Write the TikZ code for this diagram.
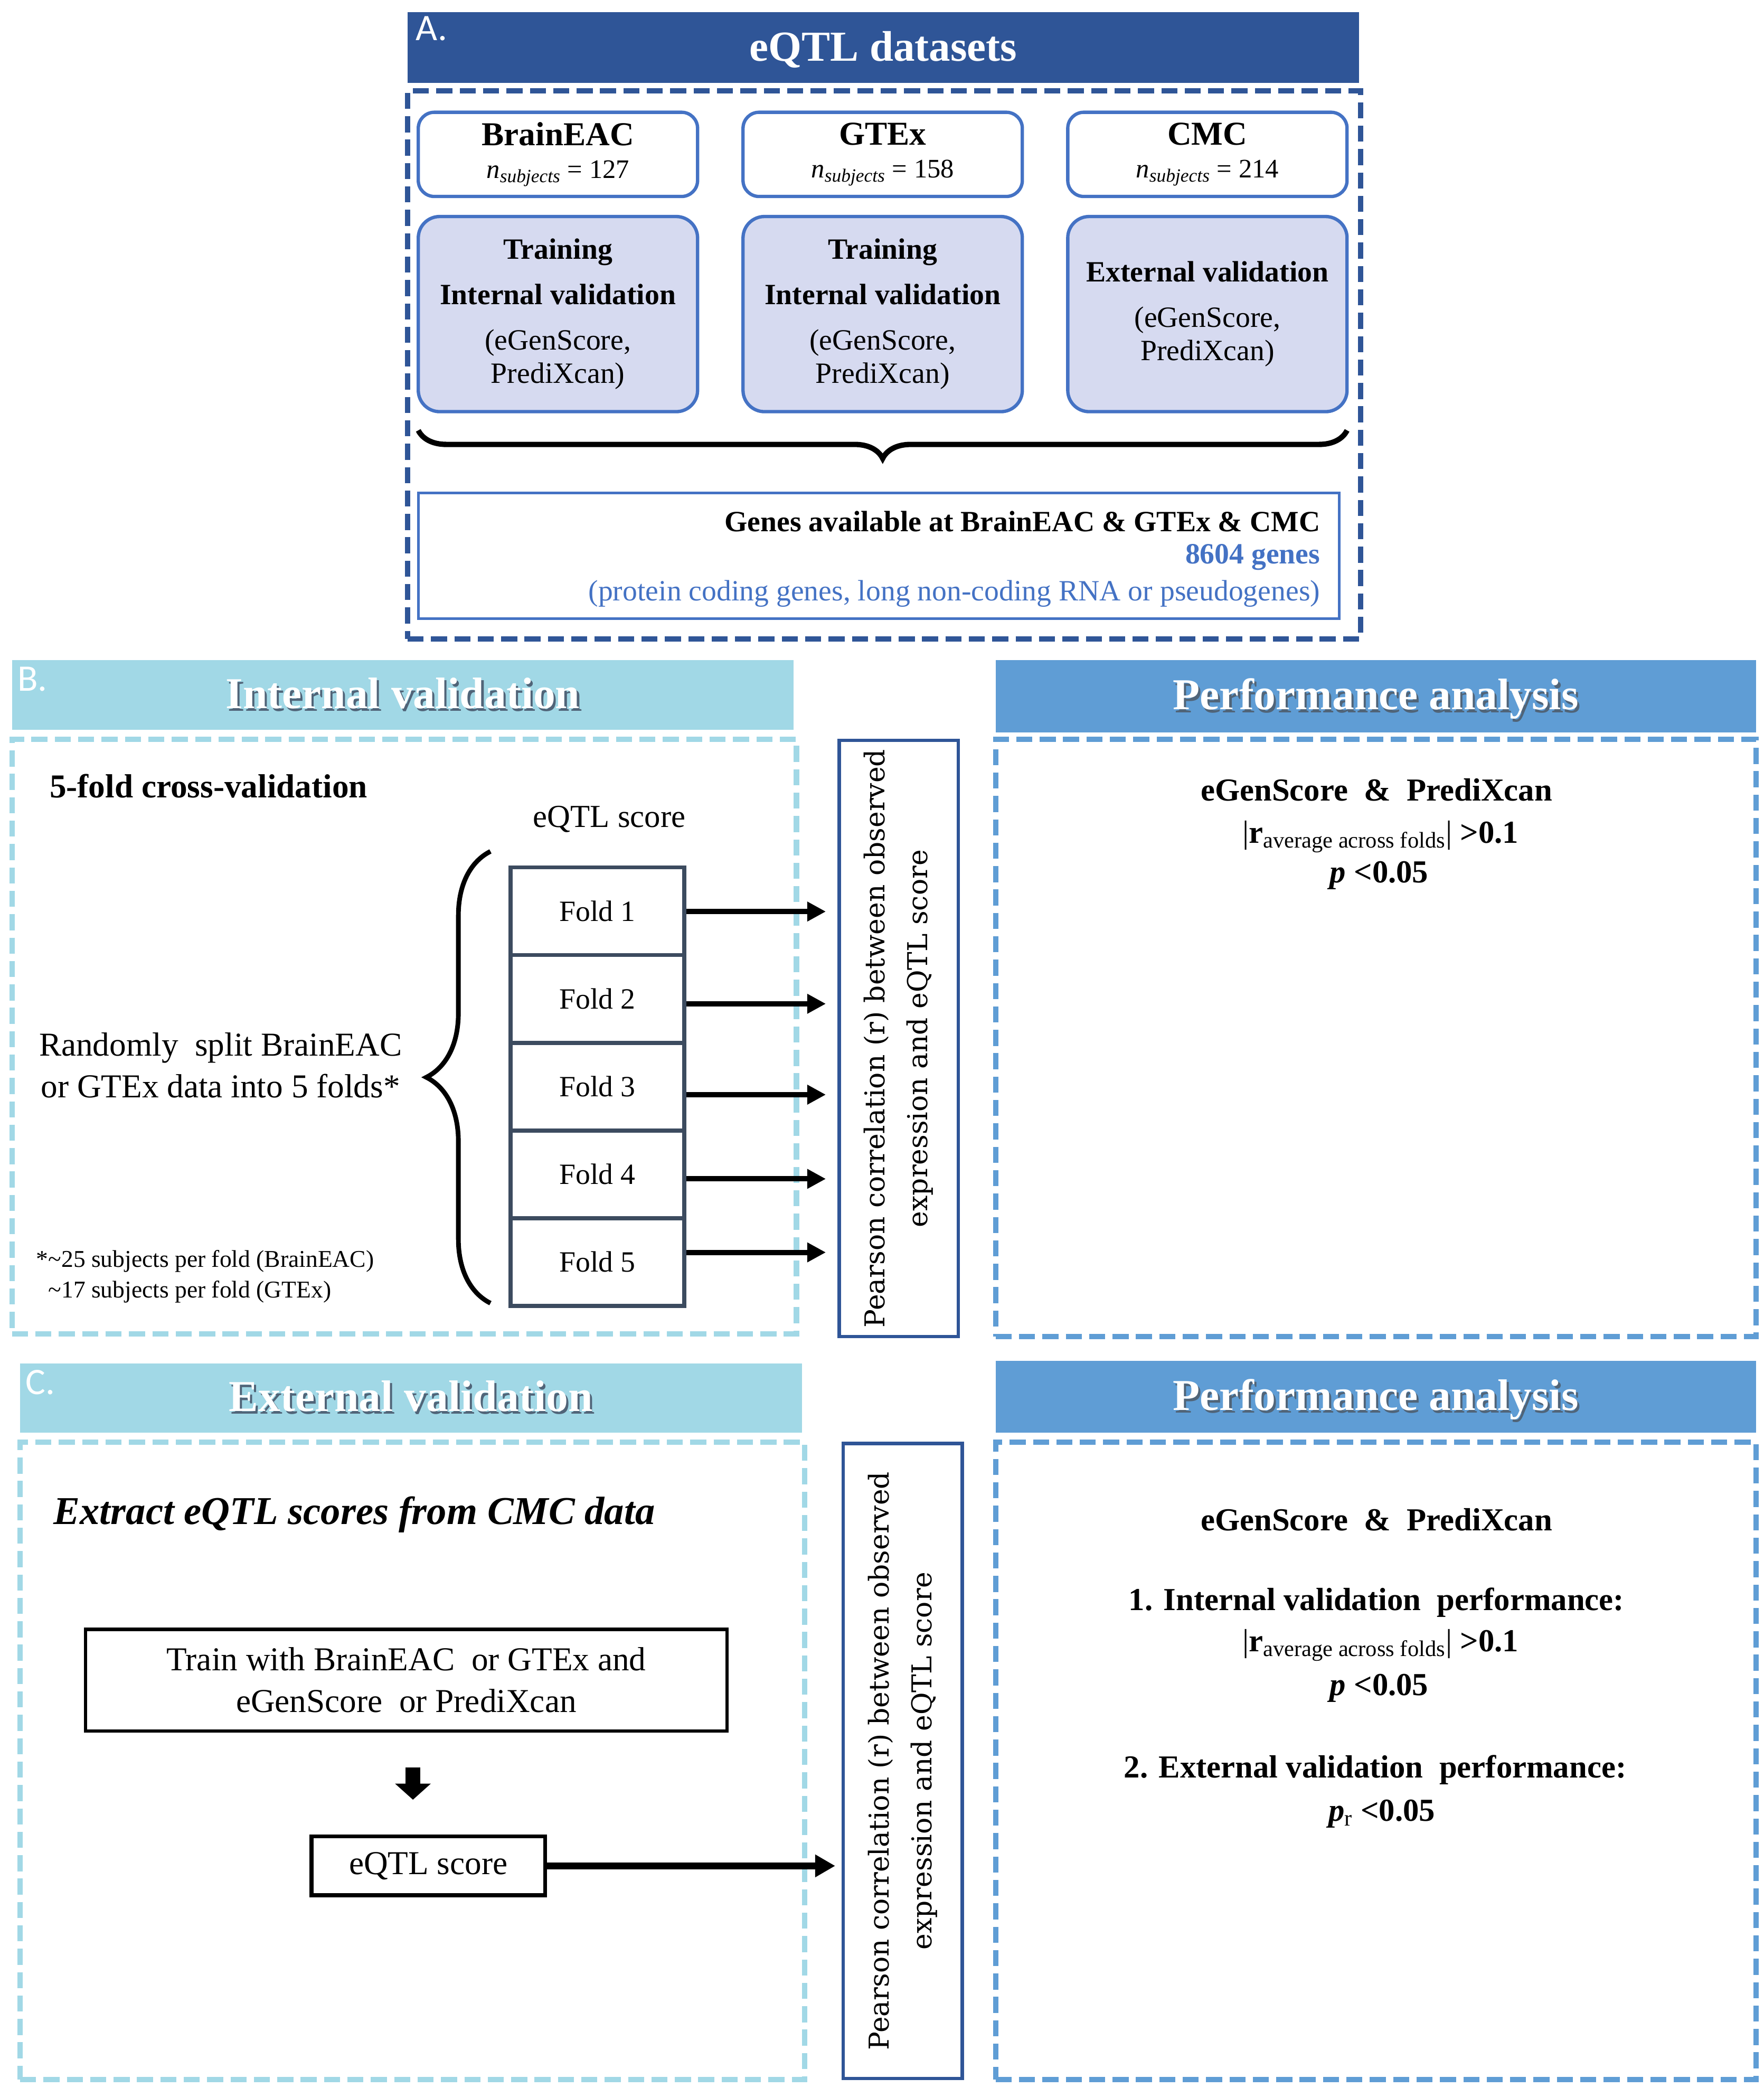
\documentclass[tikz,border=0pt]{standalone}
\usepackage{fontspec}
\setmainfont{Liberation Serif}
\newfontfamily\lblfont{Carlito}
\newfontfamily\pearfont{DejaVu Serif}
\usetikzlibrary{arrows.meta,decorations.pathreplacing,calc}
\definecolor{dkblue}{RGB}{47,85,151}
\definecolor{bdblue}{RGB}{68,114,196}
\definecolor{lav}{RGB}{214,218,240}
\definecolor{ltblue}{RGB}{161,216,230}
\definecolor{mdblue}{RGB}{95,157,213}
\definecolor{slate}{RGB}{60,75,95}
\definecolor{shcol}{RGB}{80,100,120}
\newcommand{\fsz}[2]{\fontsize{#1}{#2}\selectfont}
\newcommand{\nsub}[1]{\textit{n}\textsubscript{\textit{subjects}} = #1}
\newcommand{\shtxt}[1]{\makebox[0pt][l]{\hspace{1.6pt}\raisebox{-2pt}{\textcolor{shcol}{#1}}}#1}
\begin{document}
\begin{tikzpicture}[x=1pt,y=-1pt,
  hdr/.style={minimum height=53pt, inner sep=0pt, text=white, text height=22pt, text depth=2pt, font=\bfseries\fsz{33}{38}},
  dframe/.style={line width=4pt, dash pattern=on 12pt off 5.5pt, inner sep=0pt},
  topbox/.style={draw=bdblue, line width=2.5pt, rounded corners=12pt, fill=white, minimum width=209pt, minimum height=63pt, align=center, inner sep=0pt},
  midbox/.style={draw=bdblue, line width=2.5pt, rounded corners=16pt, fill=lav, minimum width=209pt, minimum height=146pt, align=center, inner sep=0pt, font=\fsz{22}{25}},
  fold/.style={draw=slate, line width=3pt, minimum width=130pt, minimum height=65.6pt, inner sep=0pt, font=\fsz{22}{26}},
  pear/.style={draw=dkblue, line width=2.5pt, rotate=90, minimum width=446pt, minimum height=89pt, align=center, inner sep=0pt, font=\pearfont\fsz{20.5}{32}},
  arr/.style={line width=4pt, -{Triangle[length=14pt,width=14pt]}},
  lbl/.style={anchor=north west, text=white, font=\lblfont\fsz{28}{30}, inner sep=0pt},
  plain/.style={inner sep=0pt},
]
\useasboundingbox (0,0) rectangle (1320,1562.2);

% ---------------- Panel A
\node[hdr, fill=dkblue, minimum width=712pt, text depth=2pt, font=\bfseries\fsz{32}{36}] (hA) at (661,35.5) {eQTL datasets};
\node[lbl] (lA) at (311,12) {A.};
\node[draw=dkblue, dframe, minimum width=713pt, minimum height=410pt] (fA) at (661.5,273) {};

\node[topbox, text depth=6pt] (b1) at (417.5,115.5) {{\bfseries\fsz{25}{28}BrainEAC}\\[10pt]{\fsz{20}{22}\nsub{127}}};
\node[topbox, text depth=6pt] (b2) at (660.5,115.5) {{\bfseries\fsz{25}{28}GTEx}\\[10pt]{\fsz{20}{22}\nsub{158}}};
\node[topbox, text depth=6pt] (b3) at (903.5,115.5) {{\bfseries\fsz{25}{28}CMC}\\[10pt]{\fsz{20}{22}\nsub{214}}};

\node[midbox] (m1) at (417.5,235) {\textbf{Training}\\[9pt]\textbf{Internal validation}\\[9pt](eGenScore,\\PrediXcan)};
\node[midbox] (m2) at (660.5,235) {\textbf{Training}\\[9pt]\textbf{Internal validation}\\[9pt](eGenScore,\\PrediXcan)};
\node[midbox] (m3) at (903.5,235) {\textbf{External validation}\\[9pt](eGenScore,\\PrediXcan)};

\coordinate (brR) at (1008,322);
\coordinate (brL) at (313,322);
\draw[line width=4pt, decorate, decoration={brace, amplitude=21pt}] (brR) -- (brL);

\node[draw=bdblue, line width=2pt, minimum width=689pt, minimum height=94pt, inner sep=0pt] (gb) at (657.5,416) {};
\node[plain, anchor=east, font=\bfseries\fsz{22}{26}] (g1) at (988,390) {Genes available at BrainEAC \& GTEx \& CMC};
\node[plain, anchor=east, font=\bfseries\fsz{22}{26}, text=bdblue] (g2) at (988,417) {8604 genes};
\node[plain, anchor=east, font=\fsz{22}{26}, text=bdblue] (g3) at (988,444) {(protein coding genes, long non-coding RNA or pseudogenes)};

% ---------------- Panel B
\node[hdr, fill=ltblue, minimum width=585pt, minimum height=52pt] (hB) at (301.5,520) {\shtxt{Internal validation}};
\node[lbl] (lB) at (13,499) {B.};
\node[draw=ltblue, dframe, minimum width=587pt, minimum height=445pt] (fB) at (302.5,775.5) {};

\node[plain, anchor=west, font=\bfseries\fsz{25}{28}] (cv) at (37,588) {5-fold cross-validation};
\node[plain, font=\fsz{24}{28}] (es) at (456,613) {eQTL score};

\node[fold] (f1) at (447,681.8) {Fold 1};
\node[fold] (f2) at (447,747.4) {Fold 2};
\node[fold] (f3) at (447,813.0) {Fold 3};
\node[fold] (f4) at (447,878.6) {Fold 4};
\node[fold] (f5) at (447,944.2) {Fold 5};

\coordinate (bbB) at (367,975);
\coordinate (bbT) at (367,637);
\draw[line width=3.5pt, decorate, decoration={brace, amplitude=48pt}] (bbB) -- (bbT);

\node[plain, align=center, font=\fsz{25}{31}] (rs) at (165,797) {Randomly\ \ split BrainEAC\\or GTEx data into 5 folds*};
\node[plain, anchor=west, align=left, font=\fsz{18}{23}] (fn) at (27,955) {*\textasciitilde 25 subjects per fold (BrainEAC)\\\hspace*{9pt}\textasciitilde 17 subjects per fold (GTEx)};

\coordinate (t1) at (618,682);
\coordinate (t2) at (618,751);
\coordinate (t3) at (618,819);
\coordinate (t4) at (618,882);
\coordinate (t5) at (618,937);
\draw[arr] (f1.east |- t1) -- (t1);
\draw[arr] (f2.east |- t2) -- (t2);
\draw[arr] (f3.east |- t3) -- (t3);
\draw[arr] (f4.east |- t4) -- (t4);
\draw[arr] (f5.east |- t5) -- (t5);

\node[pear] (pB) at (672.5,777) {Pearson correlation (r) between observed\\expression and eQTL score};

\node[hdr, fill=mdblue, minimum width=569pt, minimum height=54pt] (hP1) at (1029.5,521) {\shtxt{Performance analysis}};
\node[draw=mdblue, dframe, minimum width=569pt, minimum height=447pt] (fP1) at (1029.5,776.5) {};
\node[plain, font=\bfseries\fsz{24}{28}] (pa1) at (1030,591) {eGenScore \ \& \ PrediXcan};
\node[plain, font=\fsz{24}{28}] (pa2) at (1033,626) {|\textbf{r}\textsubscript{average across folds}| \textbf{>0.1}};
\node[plain, font=\bfseries\fsz{24}{28}] (pa3) at (1032,655) {\textit{p} <0.05};

% ---------------- Panel C
\node[hdr, fill=ltblue, minimum width=585pt, minimum height=52pt] (hC) at (307.5,1046) {\shtxt{External validation}};
\node[lbl] (lC) at (19,1025) {C.};
\node[draw=ltblue, dframe, minimum width=587pt, minimum height=477pt] (fC) at (308.5,1317.5) {};

\node[plain, anchor=west, font=\bfseries\itshape\fsz{29.5}{33}] (ex) at (40,1133) {Extract eQTL scores from CMC data};
\node[draw=black, line width=2.5pt, minimum width=480pt, minimum height=76pt, align=center, font=\fsz{25}{31}, inner sep=0pt] (tr) at (304,1257) {Train with BrainEAC\ \ or GTEx and\\eGenScore\ \ or PrediXcan};
\node[draw=black, line width=3pt, minimum width=175pt, minimum height=44pt, font=\fsz{25}{28}, inner sep=0pt] (eq) at (320.5,1396) {eQTL score};
\coordinate (dn) at (309,0);
\draw[line width=11pt, -{Triangle[length=12pt,width=26pt]}, shorten <=26pt, shorten >=26pt] (tr.south -| dn) -- (eq.north -| dn);
\coordinate (te) at (625,1396);
\draw[line width=5pt, -{Triangle[length=15pt,width=16pt]}] (eq.east) -- (te);

\node[pear, minimum width=475pt] (pC) at (675.5,1317.5) {Pearson correlation (r) between observed\\expression and eQTL score};

\node[hdr, fill=mdblue, minimum width=569pt, minimum height=54pt] (hP2) at (1029.5,1045) {\shtxt{Performance analysis}};
\node[draw=mdblue, dframe, minimum width=569pt, minimum height=477pt] (fP2) at (1029.5,1317.5) {};
\node[plain, font=\bfseries\fsz{24}{28}] (q1) at (1030,1137) {eGenScore \ \& \ PrediXcan};
\node[plain, font=\bfseries\fsz{24}{28}] (q2) at (1030,1199) {1. Internal validation\ \ performance:};
\node[plain, font=\fsz{24}{28}] (q3) at (1033,1231) {|\textbf{r}\textsubscript{average across folds}| \textbf{>0.1}};
\node[plain, font=\bfseries\fsz{24}{28}] (q4) at (1032,1263) {\textit{p} <0.05};
\node[plain, font=\bfseries\fsz{24}{28}] (q5) at (1029,1324) {2. External validation\ \ performance:};
\node[plain, font=\fsz{24}{28}] (q6) at (1034,1357) {\textbf{\textit{p}}\textsubscript{r} \textbf{<0.05}};
\end{tikzpicture}
\end{document}
